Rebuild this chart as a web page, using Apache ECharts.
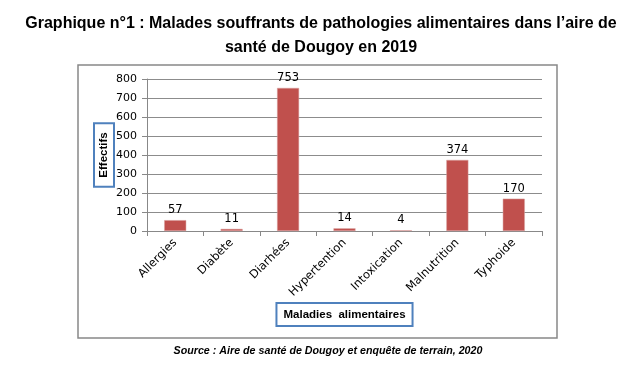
<!DOCTYPE html>
<html><head><meta charset="utf-8">
<script src="https://cdn.jsdelivr.net/npm/echarts@6/dist/echarts.min.js"></script>
<style>html,body{margin:0;padding:0;background:#fff}#c{width:625px;height:365px}</style>
</head><body><div id="c"></div>
<script>
const categories = ["Allergies","Diabète","Diarhées","Hypertention","Intoxication","Malnutrition","Typhoide"];
const values = [57, 11, 753, 14, 4, 374, 170];
const yTicks = [0,100,200,300,400,500,600,700,800];
const titleText = "Graphique n°1 : Malades souffrants de pathologies alimentaires dans l’aire de\nsanté de Dougoy en 2019";
const sourceText = "Source : Aire de santé de Dougoy et enquête de terrain, 2020";
const xName = "Maladies  alimentaires";
const yName = "Effectifs";

const chart = echarts.init(document.getElementById('c'), null, {renderer:'canvas'});
chart.setOption({
  animation:false,
  backgroundColor:'#fff',
  graphic:[
    {type:'text', x:321, y:12, style:{text:titleText, align:'center', verticalAlign:'top', lineHeight:24,
      font:'bold 16px "Liberation Sans", Arial, sans-serif', fill:'#000'}},
    {type:'rect', shape:{x:78,y:65,width:479,height:273}, style:{fill:'none', stroke:'#888', lineWidth:1.5}, z:-1},
    {type:'text', x:328, y:351, style:{text:sourceText, align:'center', verticalAlign:'middle',
      font:'italic bold 10.7px "Liberation Sans", Arial, sans-serif', fill:'#000'}}
  ],
  grid:{left:147, right:83, top:79, bottom:134},
  xAxis:{
    type:'category', data:categories,
    axisLine:{lineStyle:{color:'#888', width:1}},
    axisTick:{show:true, length:5, lineStyle:{color:'#888'}},
    axisLabel:{rotate:45, fontFamily:'"DejaVu Sans", Verdana, sans-serif', fontSize:11.5, color:'#000', margin:10},
    name:xName, nameLocation:'middle', nameGap:73, nameMoveOverlap:false,
    nameTextStyle:{fontFamily:'"Liberation Sans", Arial, sans-serif', fontWeight:'bold', fontSize:11.5, color:'#000',
      borderColor:'#4f81bd', borderWidth:2, padding:[5,6,4,6], backgroundColor:'#fff'}
  },
  yAxis:{
    type:'value', min:0, max:800, interval:100,
    axisLine:{show:true, lineStyle:{color:'#888'}},
    axisTick:{show:true, length:5, lineStyle:{color:'#888'}},
    splitLine:{lineStyle:{color:'#8c8c8c', width:1}},
    axisLabel:{fontFamily:'"DejaVu Sans", Verdana, sans-serif', fontSize:11, color:'#000', margin:10,
      formatter:function(v){return yTicks.indexOf(v)>=0 ? String(v) : '';}},
    name:yName, nameLocation:'middle', nameRotate:90, nameGap:34, nameMoveOverlap:false,
    nameTextStyle:{fontFamily:'"Liberation Sans", Arial, sans-serif', fontWeight:'bold', fontSize:11.5, color:'#000',
      borderColor:'#4f81bd', borderWidth:2, padding:[3,8,3,8], backgroundColor:'#fff'}
  },
  series:[{
    type:'bar', data:values, barWidth:'39%',
    itemStyle:{color:'#C0504D', borderColor:'#d9a3a1', borderWidth:0.5},
    label:{show:true, position:'top', distance:4, fontFamily:'"DejaVu Sans", Verdana, sans-serif', fontSize:11.5, color:'#000'}
  }]
});
</script></body></html>
